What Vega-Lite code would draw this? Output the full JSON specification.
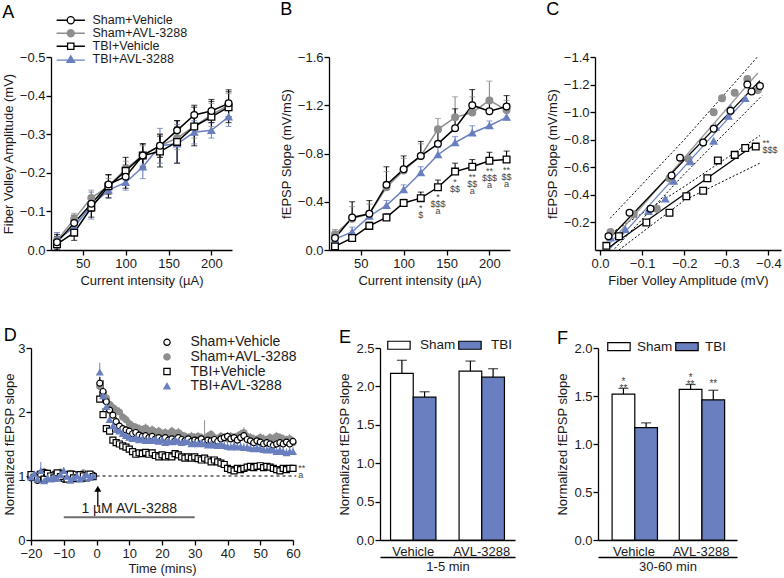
{
"$schema": "https://vega.github.io/schema/vega-lite/v6.json",
"autosize": {"type": "none"},
"padding": {"left": 31, "top": 57, "right": 753, "bottom": 521},
"background": "white",
"config": {
  "font": "Liberation Sans",
  "view": {"stroke": null},
  "axis": {"grid": false, "domainColor": "#000", "domainWidth": 1.3, "tickColor": "#000", "tickWidth": 1.3, "tickSize": 5, "labelFontSize": 13, "labelColor": "#1a1a1a", "titleFontSize": 13, "titleFontWeight": "normal", "titleColor": "#1a1a1a", "labelPadding": 2, "titlePadding": 4, "labelOverlap": false, "labelFlush": false, "labelBound": false},
  "axisY": {"labelPadding": 1},
  "legend": {"labelFontSize": 13.5, "labelColor": "#1a1a1a", "rowPadding": 0},
  "title": {"fontSize": 18, "fontWeight": "normal", "anchor": "start", "frame": "bounds", "color": "#000"}
},
"datasets": {
  "curve": [
    {"g":"SA","x":20,"fv":-0.025,"fl":-0.045,"fh":-0.005,"sl":-0.13,"st":-0.17},
    {"g":"SA","x":40,"fv":-0.08,"fl":-0.095,"fh":-0.065,"sl":-0.26,"st":-0.36},
    {"g":"SA","x":60,"fv":-0.135,"fl":-0.155,"fh":-0.115,"sl":-0.30,"st":-0.38},
    {"g":"SA","x":80,"fv":-0.165,"fl":-0.185,"fh":-0.145,"sl":-0.52,"st":-0.65},
    {"g":"SA","x":100,"fv":-0.21,"fl":-0.23,"fh":-0.19,"sl":-0.66,"st":-0.76},
    {"g":"SA","x":120,"fv":-0.245,"fl":-0.27,"fh":-0.22,"sl":-0.78,"st":-0.88},
    {"g":"SA","x":140,"fv":-0.27,"fl":-0.30,"fh":-0.24,"sl":-1.00,"st":-1.09},
    {"g":"SA","x":160,"fv":-0.29,"fl":-0.32,"fh":-0.26,"sl":-1.10,"st":-1.27},
    {"g":"SA","x":180,"fv":-0.32,"fl":-0.35,"fh":-0.29,"sl":-1.14,"st":-1.27},
    {"g":"SA","x":200,"fv":-0.35,"fl":-0.38,"fh":-0.32,"sl":-1.24,"st":-1.40},
    {"g":"SA","x":220,"fv":-0.375,"fl":-0.405,"fh":-0.345,"sl":-1.16,"st":-1.24},
    {"g":"TA","x":20,"fv":-0.025,"fl":-0.045,"fh":-0.005,"sl":-0.09,"st":-0.12},
    {"g":"TA","x":40,"fv":-0.06,"fl":-0.08,"fh":-0.04,"sl":-0.15,"st":-0.19},
    {"g":"TA","x":60,"fv":-0.115,"fl":-0.15,"fh":-0.08,"sl":-0.28,"st":-0.32},
    {"g":"TA","x":80,"fv":-0.155,"fl":-0.175,"fh":-0.135,"sl":-0.37,"st":-0.41},
    {"g":"TA","x":100,"fv":-0.175,"fl":-0.195,"fh":-0.155,"sl":-0.50,"st":-0.54},
    {"g":"TA","x":120,"fv":-0.215,"fl":-0.245,"fh":-0.185,"sl":-0.64,"st":-0.69},
    {"g":"TA","x":140,"fv":-0.27,"fl":-0.315,"fh":-0.225,"sl":-0.79,"st":-0.85},
    {"g":"TA","x":160,"fv":-0.275,"fl":-0.325,"fh":-0.225,"sl":-0.89,"st":-0.94},
    {"g":"TA","x":180,"fv":-0.305,"fl":-0.335,"fh":-0.275,"sl":-0.97,"st":-1.03},
    {"g":"TA","x":200,"fv":-0.31,"fl":-0.33,"fh":-0.29,"sl":-1.03,"st":-1.07},
    {"g":"TA","x":220,"fv":-0.345,"fl":-0.37,"fh":-0.32,"sl":-1.10,"st":-1.15},
    {"g":"TV","x":20,"fv":-0.015,"fl":-0.035,"fh":0.0,"sl":-0.03,"st":-0.05},
    {"g":"TV","x":40,"fv":-0.045,"fl":-0.065,"fh":-0.025,"sl":-0.10,"st":-0.12},
    {"g":"TV","x":60,"fv":-0.11,"fl":-0.135,"fh":-0.085,"sl":-0.20,"st":-0.23},
    {"g":"TV","x":80,"fv":-0.165,"fl":-0.195,"fh":-0.135,"sl":-0.27,"st":-0.30},
    {"g":"TV","x":100,"fv":-0.205,"fl":-0.24,"fh":-0.17,"sl":-0.39,"st":-0.42},
    {"g":"TV","x":120,"fv":-0.245,"fl":-0.275,"fh":-0.215,"sl":-0.43,"st":-0.48},
    {"g":"TV","x":140,"fv":-0.255,"fl":-0.295,"fh":-0.215,"sl":-0.52,"st":-0.58},
    {"g":"TV","x":160,"fv":-0.28,"fl":-0.335,"fh":-0.225,"sl":-0.65,"st":-0.72},
    {"g":"TV","x":180,"fv":-0.32,"fl":-0.37,"fh":-0.27,"sl":-0.69,"st":-0.75},
    {"g":"TV","x":200,"fv":-0.345,"fl":-0.385,"fh":-0.305,"sl":-0.74,"st":-0.81},
    {"g":"TV","x":220,"fv":-0.37,"fl":-0.41,"fh":-0.33,"sl":-0.75,"st":-0.82},
    {"g":"SV","x":20,"fv":-0.02,"fl":-0.04,"fh":0.0,"sl":-0.10,"st":-0.14},
    {"g":"SV","x":40,"fv":-0.07,"fl":-0.09,"fh":-0.05,"sl":-0.27,"st":-0.40},
    {"g":"SV","x":60,"fv":-0.12,"fl":-0.14,"fh":-0.10,"sl":-0.30,"st":-0.41},
    {"g":"SV","x":80,"fv":-0.17,"fl":-0.195,"fh":-0.145,"sl":-0.54,"st":-0.69},
    {"g":"SV","x":100,"fv":-0.19,"fl":-0.22,"fh":-0.16,"sl":-0.67,"st":-0.78},
    {"g":"SV","x":120,"fv":-0.245,"fl":-0.275,"fh":-0.215,"sl":-0.78,"st":-0.90},
    {"g":"SV","x":140,"fv":-0.27,"fl":-0.30,"fh":-0.24,"sl":-0.88,"st":-0.98},
    {"g":"SV","x":160,"fv":-0.31,"fl":-0.335,"fh":-0.285,"sl":-1.01,"st":-1.17},
    {"g":"SV","x":180,"fv":-0.35,"fl":-0.375,"fh":-0.325,"sl":-1.20,"st":-1.33},
    {"g":"SV","x":200,"fv":-0.36,"fl":-0.39,"fh":-0.33,"sl":-1.15,"st":-1.23},
    {"g":"SV","x":220,"fv":-0.38,"fl":-0.415,"fh":-0.345,"sl":-1.19,"st":-1.28}
  ],
  "bann": [
    {"x":120,"sl":-0.43,"t":"*\n$"},
    {"x":140,"sl":-0.52,"t":"*\n$$$\na"},
    {"x":160,"sl":-0.65,"t":"*\n$$"},
    {"x":180,"sl":-0.69,"t":"**\n$$\na"},
    {"x":200,"sl":-0.74,"t":"**\n$$$\na"},
    {"x":220,"sl":-0.75,"t":"**\n$$\na"}
  ],
  "ci": [
    {"c":1,"fv":-0.024,"sl":-0.23},{"c":1,"fv":-0.2,"sl":-0.8},{"c":1,"fv":-0.374,"sl":-1.40},
    {"c":2,"fv":-0.035,"sl":-0.01},{"c":2,"fv":-0.2,"sl":-0.55},{"c":2,"fv":-0.385,"sl":-1.12},
    {"c":3,"fv":-0.02,"sl":-0.11},{"c":3,"fv":-0.2,"sl":-0.46},{"c":3,"fv":-0.38,"sl":-0.83},
    {"c":4,"fv":-0.045,"sl":0.0},{"c":4,"fv":-0.2,"sl":-0.36},{"c":4,"fv":-0.38,"sl":-0.63}
  ],
  "cann": [{"fv":-0.386,"sl":-0.775,"t":"**\n$$$"}],
  "dline": [{"x":0,"x2":61,"y":1}],
  "ddrug": [{"x":-10,"x2":30,"y":0.355}],
  "darrow": [{"x":0.4,"y":0.52,"y2":0.8}],
  "dtext": [{"x":10,"y":0.478,"t":"1 µM AVL-3288"}],
  "dann": [{"x":61.6,"y":1.13,"t":"**\na"}],
  "ltp": [
    {"g":"SA","t":-20,"y":1.00,"u":1.04},{"g":"SA","t":-19,"y":0.98,"u":1.02},{"g":"SA","t":-18,"y":1.02,"u":1.06},{"g":"SA","t":-17,"y":0.96,"u":1.00},{"g":"SA","t":-16,"y":1.00,"u":1.04},
    {"g":"SA","t":-15,"y":1.05,"u":1.09},{"g":"SA","t":-14,"y":0.98,"u":1.02},{"g":"SA","t":-13,"y":1.03,"u":1.07},{"g":"SA","t":-12,"y":0.97,"u":1.01},{"g":"SA","t":-11,"y":1.06,"u":1.10},
    {"g":"SA","t":-10,"y":1.00,"u":1.04},{"g":"SA","t":-9,"y":0.98,"u":1.02},{"g":"SA","t":-8,"y":1.04,"u":1.08},{"g":"SA","t":-7,"y":0.96,"u":1.00},{"g":"SA","t":-6,"y":1.02,"u":1.06},
    {"g":"SA","t":-5,"y":1.00,"u":1.04},{"g":"SA","t":-4,"y":1.05,"u":1.09},{"g":"SA","t":-3,"y":0.98,"u":1.02},{"g":"SA","t":-2,"y":1.01,"u":1.05},{"g":"SA","t":-1,"y":1.00,"u":1.04},
    {"g":"SA","t":1,"y":2.40,"u":2.55},{"g":"SA","t":2,"y":2.30,"u":2.42},{"g":"SA","t":3,"y":2.22,"u":2.32},{"g":"SA","t":4,"y":2.12,"u":2.22},{"g":"SA","t":5,"y":2.07,"u":2.15},
    {"g":"SA","t":6,"y":2.03,"u":2.10},{"g":"SA","t":7,"y":2.00,"u":2.07},{"g":"SA","t":8,"y":1.92,"u":1.99},{"g":"SA","t":9,"y":1.88,"u":1.95},{"g":"SA","t":10,"y":1.82,"u":1.89},
    {"g":"SA","t":11,"y":1.78,"u":1.85},{"g":"SA","t":12,"y":1.76,"u":1.83},{"g":"SA","t":13,"y":1.74,"u":1.81},{"g":"SA","t":14,"y":1.72,"u":1.79},{"g":"SA","t":15,"y":1.75,"u":1.82},
    {"g":"SA","t":16,"y":1.70,"u":1.77},{"g":"SA","t":17,"y":1.72,"u":1.79},{"g":"SA","t":18,"y":1.68,"u":1.75},{"g":"SA","t":19,"y":1.70,"u":1.77},{"g":"SA","t":20,"y":1.66,"u":1.73},
    {"g":"SA","t":21,"y":1.68,"u":1.75},{"g":"SA","t":22,"y":1.65,"u":1.72},{"g":"SA","t":23,"y":1.70,"u":1.77},{"g":"SA","t":24,"y":1.66,"u":1.73},{"g":"SA","t":25,"y":1.68,"u":1.75},
    {"g":"SA","t":26,"y":1.64,"u":1.71},{"g":"SA","t":27,"y":1.62,"u":1.69},{"g":"SA","t":28,"y":1.60,"u":1.67},{"g":"SA","t":29,"y":1.62,"u":1.69},{"g":"SA","t":30,"y":1.60,"u":1.67},
    {"g":"SA","t":31,"y":1.62,"u":1.69},{"g":"SA","t":32,"y":1.60,"u":1.67},{"g":"SA","t":33,"y":1.58,"u":1.87},{"g":"SA","t":34,"y":1.62,"u":1.69},{"g":"SA","t":35,"y":1.65,"u":1.72},
    {"g":"SA","t":36,"y":1.60,"u":1.67},{"g":"SA","t":37,"y":1.58,"u":1.65},{"g":"SA","t":38,"y":1.62,"u":1.69},{"g":"SA","t":39,"y":1.60,"u":1.67},{"g":"SA","t":40,"y":1.58,"u":1.65},
    {"g":"SA","t":41,"y":1.62,"u":1.69},{"g":"SA","t":42,"y":1.60,"u":1.67},{"g":"SA","t":43,"y":1.62,"u":1.69},{"g":"SA","t":44,"y":1.65,"u":1.72},{"g":"SA","t":45,"y":1.68,"u":1.76},
    {"g":"SA","t":46,"y":1.62,"u":1.69},{"g":"SA","t":47,"y":1.60,"u":1.67},{"g":"SA","t":48,"y":1.58,"u":1.65},{"g":"SA","t":49,"y":1.56,"u":1.63},{"g":"SA","t":50,"y":1.60,"u":1.67},
    {"g":"SA","t":51,"y":1.58,"u":1.65},{"g":"SA","t":52,"y":1.56,"u":1.63},{"g":"SA","t":53,"y":1.60,"u":1.67},{"g":"SA","t":54,"y":1.58,"u":1.65},{"g":"SA","t":55,"y":1.62,"u":1.69},
    {"g":"SA","t":56,"y":1.60,"u":1.67},{"g":"SA","t":57,"y":1.58,"u":1.65},{"g":"SA","t":58,"y":1.56,"u":1.63},{"g":"SA","t":59,"y":1.58,"u":1.65},{"g":"SA","t":60,"y":1.52,"u":1.59},
    {"g":"SV","t":-20,"y":0.97,"u":1.01},{"g":"SV","t":-19,"y":1.00,"u":1.04},{"g":"SV","t":-18,"y":0.93,"u":0.97},{"g":"SV","t":-17,"y":0.97,"u":1.01},{"g":"SV","t":-16,"y":1.06,"u":1.10},
    {"g":"SV","t":-15,"y":1.03,"u":1.07},{"g":"SV","t":-14,"y":1.00,"u":1.04},{"g":"SV","t":-13,"y":1.02,"u":1.06},{"g":"SV","t":-12,"y":0.98,"u":1.02},{"g":"SV","t":-11,"y":1.04,"u":1.08},
    {"g":"SV","t":-10,"y":0.95,"u":0.99},{"g":"SV","t":-9,"y":1.00,"u":1.04},{"g":"SV","t":-8,"y":0.97,"u":1.01},{"g":"SV","t":-7,"y":1.03,"u":1.07},{"g":"SV","t":-6,"y":0.98,"u":1.02},
    {"g":"SV","t":-5,"y":1.00,"u":1.04},{"g":"SV","t":-4,"y":0.96,"u":1.00},{"g":"SV","t":-3,"y":1.02,"u":1.06},{"g":"SV","t":-2,"y":0.99,"u":1.03},{"g":"SV","t":-1,"y":1.01,"u":1.05},
    {"g":"SV","t":1,"y":2.45,"u":2.55},{"g":"SV","t":2,"y":2.32,"u":2.50},{"g":"SV","t":3,"y":2.16,"u":2.28},{"g":"SV","t":4,"y":2.03,"u":2.12},{"g":"SV","t":5,"y":1.95,"u":2.03},
    {"g":"SV","t":6,"y":1.85,"u":1.92},{"g":"SV","t":7,"y":1.78,"u":1.85},{"g":"SV","t":8,"y":1.74,"u":1.80},{"g":"SV","t":9,"y":1.72,"u":1.78},{"g":"SV","t":10,"y":1.70,"u":1.76},
    {"g":"SV","t":11,"y":1.66,"u":1.72},{"g":"SV","t":12,"y":1.68,"u":1.74},{"g":"SV","t":13,"y":1.64,"u":1.70},{"g":"SV","t":14,"y":1.62,"u":1.68},{"g":"SV","t":15,"y":1.63,"u":1.69},
    {"g":"SV","t":16,"y":1.60,"u":1.66},{"g":"SV","t":17,"y":1.62,"u":1.68},{"g":"SV","t":18,"y":1.58,"u":1.64},{"g":"SV","t":19,"y":1.60,"u":1.66},{"g":"SV","t":20,"y":1.57,"u":1.63},
    {"g":"SV","t":21,"y":1.60,"u":1.66},{"g":"SV","t":22,"y":1.56,"u":1.62},{"g":"SV","t":23,"y":1.58,"u":1.64},{"g":"SV","t":24,"y":1.55,"u":1.61},{"g":"SV","t":25,"y":1.60,"u":1.66},
    {"g":"SV","t":26,"y":1.57,"u":1.63},{"g":"SV","t":27,"y":1.55,"u":1.61},{"g":"SV","t":28,"y":1.58,"u":1.64},{"g":"SV","t":29,"y":1.54,"u":1.60},{"g":"SV","t":30,"y":1.56,"u":1.62},
    {"g":"SV","t":31,"y":1.55,"u":1.61},{"g":"SV","t":32,"y":1.58,"u":1.64},{"g":"SV","t":33,"y":1.53,"u":1.59},{"g":"SV","t":34,"y":1.56,"u":1.62},{"g":"SV","t":35,"y":1.55,"u":1.61},
    {"g":"SV","t":36,"y":1.57,"u":1.63},{"g":"SV","t":37,"y":1.54,"u":1.60},{"g":"SV","t":38,"y":1.58,"u":1.64},{"g":"SV","t":39,"y":1.60,"u":1.66},{"g":"SV","t":40,"y":1.62,"u":1.68},
    {"g":"SV","t":41,"y":1.58,"u":1.64},{"g":"SV","t":42,"y":1.60,"u":1.66},{"g":"SV","t":43,"y":1.56,"u":1.62},{"g":"SV","t":44,"y":1.60,"u":1.66},{"g":"SV","t":45,"y":1.63,"u":1.69},
    {"g":"SV","t":46,"y":1.57,"u":1.63},{"g":"SV","t":47,"y":1.55,"u":1.61},{"g":"SV","t":48,"y":1.52,"u":1.58},{"g":"SV","t":49,"y":1.55,"u":1.63},{"g":"SV","t":50,"y":1.53,"u":1.59},
    {"g":"SV","t":51,"y":1.50,"u":1.56},{"g":"SV","t":52,"y":1.52,"u":1.58},{"g":"SV","t":53,"y":1.50,"u":1.56},{"g":"SV","t":54,"y":1.48,"u":1.54},{"g":"SV","t":55,"y":1.50,"u":1.56},
    {"g":"SV","t":56,"y":1.52,"u":1.58},{"g":"SV","t":57,"y":1.50,"u":1.56},{"g":"SV","t":58,"y":1.53,"u":1.59},{"g":"SV","t":59,"y":1.50,"u":1.56},{"g":"SV","t":60,"y":1.54,"u":1.60},
    {"g":"TV","t":-20,"y":1.02,"u":1.05},{"g":"TV","t":-19,"y":0.98,"u":1.01},{"g":"TV","t":-18,"y":0.96,"u":0.99},{"g":"TV","t":-17,"y":1.03,"u":1.06},{"g":"TV","t":-16,"y":0.95,"u":0.98},
    {"g":"TV","t":-15,"y":1.04,"u":1.07},{"g":"TV","t":-14,"y":1.00,"u":1.03},{"g":"TV","t":-13,"y":0.97,"u":1.00},{"g":"TV","t":-12,"y":1.05,"u":1.08},{"g":"TV","t":-11,"y":0.99,"u":1.02},
    {"g":"TV","t":-10,"y":1.02,"u":1.05},{"g":"TV","t":-9,"y":0.95,"u":0.98},{"g":"TV","t":-8,"y":1.03,"u":1.06},{"g":"TV","t":-7,"y":0.97,"u":1.00},{"g":"TV","t":-6,"y":0.96,"u":0.99},
    {"g":"TV","t":-5,"y":1.02,"u":1.05},{"g":"TV","t":-4,"y":1.00,"u":1.03},{"g":"TV","t":-3,"y":0.97,"u":1.00},{"g":"TV","t":-2,"y":1.03,"u":1.06},{"g":"TV","t":-1,"y":0.99,"u":1.02},
    {"g":"TV","t":1,"y":2.20,"u":2.32},{"g":"TV","t":2,"y":1.96,"u":2.06},{"g":"TV","t":3,"y":1.74,"u":1.80},{"g":"TV","t":4,"y":1.70,"u":1.76},{"g":"TV","t":5,"y":1.56,"u":1.61},
    {"g":"TV","t":6,"y":1.52,"u":1.57},{"g":"TV","t":7,"y":1.50,"u":1.55},{"g":"TV","t":8,"y":1.47,"u":1.52},{"g":"TV","t":9,"y":1.45,"u":1.50},{"g":"TV","t":10,"y":1.42,"u":1.47},
    {"g":"TV","t":11,"y":1.38,"u":1.43},{"g":"TV","t":12,"y":1.34,"u":1.39},{"g":"TV","t":13,"y":1.36,"u":1.41},{"g":"TV","t":14,"y":1.35,"u":1.40},{"g":"TV","t":15,"y":1.37,"u":1.42},
    {"g":"TV","t":16,"y":1.34,"u":1.39},{"g":"TV","t":17,"y":1.36,"u":1.41},{"g":"TV","t":18,"y":1.32,"u":1.37},{"g":"TV","t":19,"y":1.30,"u":1.35},{"g":"TV","t":20,"y":1.33,"u":1.38},
    {"g":"TV","t":21,"y":1.30,"u":1.35},{"g":"TV","t":22,"y":1.32,"u":1.37},{"g":"TV","t":23,"y":1.30,"u":1.35},{"g":"TV","t":24,"y":1.35,"u":1.40},{"g":"TV","t":25,"y":1.33,"u":1.38},
    {"g":"TV","t":26,"y":1.30,"u":1.35},{"g":"TV","t":27,"y":1.28,"u":1.33},{"g":"TV","t":28,"y":1.30,"u":1.35},{"g":"TV","t":29,"y":1.28,"u":1.33},{"g":"TV","t":30,"y":1.30,"u":1.35},
    {"g":"TV","t":31,"y":1.27,"u":1.32},{"g":"TV","t":32,"y":1.25,"u":1.30},{"g":"TV","t":33,"y":1.28,"u":1.33},{"g":"TV","t":34,"y":1.25,"u":1.30},{"g":"TV","t":35,"y":1.22,"u":1.27},
    {"g":"TV","t":36,"y":1.25,"u":1.30},{"g":"TV","t":37,"y":1.22,"u":1.27},{"g":"TV","t":38,"y":1.20,"u":1.25},{"g":"TV","t":39,"y":1.18,"u":1.23},{"g":"TV","t":40,"y":1.12,"u":1.17},
    {"g":"TV","t":41,"y":1.10,"u":1.15},{"g":"TV","t":42,"y":1.08,"u":1.13},{"g":"TV","t":43,"y":1.12,"u":1.17},{"g":"TV","t":44,"y":1.10,"u":1.15},{"g":"TV","t":45,"y":1.12,"u":1.17},
    {"g":"TV","t":46,"y":1.14,"u":1.19},{"g":"TV","t":47,"y":1.15,"u":1.20},{"g":"TV","t":48,"y":1.13,"u":1.18},{"g":"TV","t":49,"y":1.15,"u":1.20},{"g":"TV","t":50,"y":1.16,"u":1.21},
    {"g":"TV","t":51,"y":1.13,"u":1.18},{"g":"TV","t":52,"y":1.15,"u":1.20},{"g":"TV","t":53,"y":1.14,"u":1.19},{"g":"TV","t":54,"y":1.12,"u":1.17},{"g":"TV","t":55,"y":1.10,"u":1.15},
    {"g":"TV","t":56,"y":1.08,"u":1.13},{"g":"TV","t":57,"y":1.12,"u":1.17},{"g":"TV","t":58,"y":1.10,"u":1.15},{"g":"TV","t":59,"y":1.12,"u":1.17},{"g":"TV","t":60,"y":1.12,"u":1.17},
    {"g":"TA","t":-20,"y":0.98,"u":1.02},{"g":"TA","t":-19,"y":1.03,"u":1.07},{"g":"TA","t":-18,"y":0.95,"u":0.99},{"g":"TA","t":-17,"y":1.08,"u":1.22},{"g":"TA","t":-16,"y":0.92,"u":0.96},
    {"g":"TA","t":-15,"y":0.97,"u":1.01},{"g":"TA","t":-14,"y":0.95,"u":0.99},{"g":"TA","t":-13,"y":0.98,"u":1.02},{"g":"TA","t":-12,"y":0.96,"u":1.00},{"g":"TA","t":-11,"y":1.02,"u":1.06},
    {"g":"TA","t":-10,"y":1.08,"u":1.14},{"g":"TA","t":-9,"y":0.99,"u":1.03},{"g":"TA","t":-8,"y":0.93,"u":0.97},{"g":"TA","t":-7,"y":0.97,"u":1.01},{"g":"TA","t":-6,"y":1.00,"u":1.04},
    {"g":"TA","t":-5,"y":0.95,"u":0.99},{"g":"TA","t":-4,"y":0.98,"u":1.02},{"g":"TA","t":-3,"y":1.02,"u":1.06},{"g":"TA","t":-2,"y":0.97,"u":1.01},{"g":"TA","t":-1,"y":1.00,"u":1.04},
    {"g":"TA","t":1,"y":2.62,"u":2.77},{"g":"TA","t":2,"y":2.25,"u":2.37},{"g":"TA","t":3,"y":2.08,"u":2.18},{"g":"TA","t":4,"y":1.88,"u":1.96},{"g":"TA","t":5,"y":1.78,"u":1.85},
    {"g":"TA","t":6,"y":1.72,"u":1.79},{"g":"TA","t":7,"y":1.70,"u":1.77},{"g":"TA","t":8,"y":1.66,"u":1.73},{"g":"TA","t":9,"y":1.63,"u":1.70},{"g":"TA","t":10,"y":1.60,"u":1.67},
    {"g":"TA","t":11,"y":1.58,"u":1.65},{"g":"TA","t":12,"y":1.60,"u":1.67},{"g":"TA","t":13,"y":1.56,"u":1.63},{"g":"TA","t":14,"y":1.58,"u":1.65},{"g":"TA","t":15,"y":1.55,"u":1.62},
    {"g":"TA","t":16,"y":1.57,"u":1.64},{"g":"TA","t":17,"y":1.55,"u":1.62},{"g":"TA","t":18,"y":1.58,"u":1.65},{"g":"TA","t":19,"y":1.54,"u":1.61},{"g":"TA","t":20,"y":1.56,"u":1.63},
    {"g":"TA","t":21,"y":1.52,"u":1.59},{"g":"TA","t":22,"y":1.55,"u":1.62},{"g":"TA","t":23,"y":1.53,"u":1.60},{"g":"TA","t":24,"y":1.56,"u":1.63},{"g":"TA","t":25,"y":1.54,"u":1.61},
    {"g":"TA","t":26,"y":1.52,"u":1.59},{"g":"TA","t":27,"y":1.55,"u":1.62},{"g":"TA","t":28,"y":1.53,"u":1.60},{"g":"TA","t":29,"y":1.50,"u":1.57},{"g":"TA","t":30,"y":1.52,"u":1.59},
    {"g":"TA","t":31,"y":1.50,"u":1.57},{"g":"TA","t":32,"y":1.52,"u":1.59},{"g":"TA","t":33,"y":1.50,"u":1.57},{"g":"TA","t":34,"y":1.48,"u":1.55},{"g":"TA","t":35,"y":1.50,"u":1.57},
    {"g":"TA","t":36,"y":1.48,"u":1.55},{"g":"TA","t":37,"y":1.47,"u":1.54},{"g":"TA","t":38,"y":1.50,"u":1.57},{"g":"TA","t":39,"y":1.47,"u":1.54},{"g":"TA","t":40,"y":1.46,"u":1.53},
    {"g":"TA","t":41,"y":1.45,"u":1.52},{"g":"TA","t":42,"y":1.47,"u":1.54},{"g":"TA","t":43,"y":1.45,"u":1.52},{"g":"TA","t":44,"y":1.46,"u":1.53},{"g":"TA","t":45,"y":1.44,"u":1.51},
    {"g":"TA","t":46,"y":1.45,"u":1.52},{"g":"TA","t":47,"y":1.43,"u":1.50},{"g":"TA","t":48,"y":1.42,"u":1.49},{"g":"TA","t":49,"y":1.44,"u":1.51},{"g":"TA","t":50,"y":1.42,"u":1.49},
    {"g":"TA","t":51,"y":1.41,"u":1.48},{"g":"TA","t":52,"y":1.40,"u":1.47},{"g":"TA","t":53,"y":1.42,"u":1.49},{"g":"TA","t":54,"y":1.40,"u":1.47},{"g":"TA","t":55,"y":1.38,"u":1.45},
    {"g":"TA","t":56,"y":1.40,"u":1.47},{"g":"TA","t":57,"y":1.38,"u":1.45},{"g":"TA","t":58,"y":1.36,"u":1.43},{"g":"TA","t":59,"y":1.38,"u":1.45},{"g":"TA","t":60,"y":1.38,"u":1.45}
  ],
  "ebar": [
    {"cat":"Vehicle","grp":"Sham","v":2.17,"vt":2.34},
    {"cat":"Vehicle","grp":"TBI","v":1.86,"vt":1.93},
    {"cat":"AVL-3288","grp":"Sham","v":2.20,"vt":2.33},
    {"cat":"AVL-3288","grp":"TBI","v":2.12,"vt":2.23}
  ],
  "fbar": [
    {"cat":"Vehicle","grp":"Sham","v":1.52,"vt":1.58,"ann":"*\n**"},
    {"cat":"Vehicle","grp":"TBI","v":1.17,"vt":1.22,"ann":""},
    {"cat":"AVL-3288","grp":"Sham","v":1.57,"vt":1.62,"ann":"*\n**"},
    {"cat":"AVL-3288","grp":"TBI","v":1.46,"vt":1.56,"ann":"**"}
  ]
},
"resolve": {"scale": {"color": "independent", "fill": "independent", "stroke": "independent", "shape": "independent"}},
"vconcat": [
  {
    "resolve": {"scale": {"color": "independent", "fill": "independent", "stroke": "independent", "shape": "independent"}},
    "hconcat": [
      {"width": 20, "height": 193, "data": {"values": [{"a": 0}]}, "mark": {"type": "point", "opacity": 0}},
      {
        "resolve": {"scale": {"color": "independent", "fill": "independent", "stroke": "independent", "shape": "independent"}},
        "hconcat": [
          {
            "width": 181, "height": 193,
            "title": {"text": "A", "offset": -8},
            "data": {"name": "curve"},
            "resolve": {"scale": {"shape": "independent", "fill": "independent", "stroke": "independent"}},
            "layer": [
              {"mark": {"type": "rule", "strokeWidth": 1.1},
               "encoding": {
                 "x": {"field": "x", "type": "quantitative", "scale": {"domain": [13, 224], "nice": false, "zero": false}, "axis": {"values": [50, 100, 150, 200], "tickCount": 20, "title": "Current intensity (µA)"}},
                 "y": {"field": "fl", "type": "quantitative", "scale": {"domain": [0, -0.5], "nice": false, "zero": false}, "axis": {"values": [0, -0.1, -0.2, -0.3, -0.4, -0.5], "tickCount": 20, "format": ".1f", "title": "Fiber Volley Amplitude (mV)"}},
                 "y2": {"field": "fh"},
                 "color": {"field": "g", "type": "nominal", "scale": {"domain": ["SV", "SA", "TV", "TA"], "range": ["#000000", "#8e8e8e", "#000000", "#6a7fbf"]}, "legend": null}
               }},
              {"mark": {"type": "tick", "orient": "horizontal", "size": 6, "thickness": 1.1},
               "encoding": {"x": {"field": "x", "type": "quantitative"}, "y": {"field": "fl", "type": "quantitative"}, "color": {"field": "g", "type": "nominal", "legend": null}}},
              {"mark": {"type": "tick", "orient": "horizontal", "size": 6, "thickness": 1.1},
               "encoding": {"x": {"field": "x", "type": "quantitative"}, "y": {"field": "fh", "type": "quantitative"}, "color": {"field": "g", "type": "nominal", "legend": null}}},
              {"mark": {"type": "line", "strokeWidth": 1.5},
               "encoding": {"x": {"field": "x", "type": "quantitative"}, "y": {"field": "fv", "type": "quantitative"}, "color": {"field": "g", "type": "nominal", "legend": null}}},
              {"mark": {"type": "point", "filled": true, "size": 45, "strokeWidth": 1.3, "opacity": 1},
               "encoding": {
                 "x": {"field": "x", "type": "quantitative"}, "y": {"field": "fv", "type": "quantitative"},
                 "shape": {"field": "g", "type": "nominal", "scale": {"domain": ["SV", "SA", "TV", "TA"], "range": ["circle", "circle", "square", "triangle-up"]}, "legend": null},
                 "fill": {"field": "g", "type": "nominal", "scale": {"domain": ["SV", "SA", "TV", "TA"], "range": ["#ffffff", "#8e8e8e", "#ffffff", "#6a7fbf"]}, "legend": null},
                 "stroke": {"field": "g", "type": "nominal", "scale": {"domain": ["SV", "SA", "TV", "TA"], "range": ["#000000", "#8e8e8e", "#000000", "#6a7fbf"]}, "legend": null}
               }},
              {"transform": [{"filter": "datum.x > 1000"}],
               "mark": {"type": "point", "filled": true, "size": 50, "strokeWidth": 1.3, "opacity": 1},
               "encoding": {
                 "x": {"field": "x", "type": "quantitative"}, "y": {"field": "fv", "type": "quantitative"},
                 "shape": {"field": "g", "type": "nominal", "scale": {"domain": ["SV", "SA", "TV", "TA"], "range": ["M-4,0H-1M1,0H4M-1,0A1,1,0,1,0,1,0A1,1,0,1,0,-1,0Z", "M-4,0H-1M1,0H4M-1,0A1,1,0,1,0,1,0A1,1,0,1,0,-1,0Z", "M-4,0H-0.9M0.9,0H4M-0.9,-0.9H0.9V0.9H-0.9Z", "M-4,0.25H-0.8M0.8,0.25H4M0,-1L1.1,0.9H-1.1Z"]},
                   "legend": {"orient": "none", "legendX": 13.5, "legendY": -43, "title": null, "symbolSize": 50, "symbolStrokeWidth": 1.3, "labelOffset": 15.5, "labelFontSize": 12.5, "rowPadding": 0, "labelExpr": "datum.label == 'SV' ? 'Sham+Vehicle' : datum.label == 'SA' ? 'Sham+AVL-3288' : datum.label == 'TV' ? 'TBI+Vehicle' : 'TBI+AVL-3288'"}},
                 "fill": {"field": "g", "type": "nominal", "scale": {"domain": ["SV", "SA", "TV", "TA"], "range": ["#ffffff", "#8e8e8e", "#ffffff", "#6a7fbf"]},
                   "legend": {"orient": "none", "legendX": 13.5, "legendY": -43, "title": null, "symbolSize": 50, "symbolStrokeWidth": 1.3, "labelOffset": 15.5, "labelFontSize": 12.5, "rowPadding": 0, "labelExpr": "datum.label == 'SV' ? 'Sham+Vehicle' : datum.label == 'SA' ? 'Sham+AVL-3288' : datum.label == 'TV' ? 'TBI+Vehicle' : 'TBI+AVL-3288'"}},
                 "stroke": {"field": "g", "type": "nominal", "scale": {"domain": ["SV", "SA", "TV", "TA"], "range": ["#000000", "#8e8e8e", "#000000", "#6a7fbf"]},
                   "legend": {"orient": "none", "legendX": 13.5, "legendY": -43, "title": null, "symbolSize": 50, "symbolStrokeWidth": 1.3, "labelOffset": 15.5, "labelFontSize": 12.5, "rowPadding": 0, "labelExpr": "datum.label == 'SV' ? 'Sham+Vehicle' : datum.label == 'SA' ? 'Sham+AVL-3288' : datum.label == 'TV' ? 'TBI+Vehicle' : 'TBI+AVL-3288'"}}
               }}
            ]
          },
          {
            "resolve": {"scale": {"color": "independent", "fill": "independent", "stroke": "independent", "shape": "independent"}},
            "hconcat": [
              {
                "width": 181, "height": 193,
                "title": {"text": "B", "offset": 32},
                "layer": [
                  {"data": {"name": "curve"}, "mark": {"type": "rule", "strokeWidth": 1.1},
                   "encoding": {
                     "x": {"field": "x", "type": "quantitative", "scale": {"domain": [13, 224], "nice": false, "zero": false}, "axis": {"values": [50, 100, 150, 200], "tickCount": 20, "title": "Current intensity (µA)"}},
                     "y": {"field": "sl", "type": "quantitative", "scale": {"domain": [0, -1.6], "nice": false, "zero": false}, "axis": {"values": [0, -0.4, -0.8, -1.2, -1.6], "tickCount": 20, "format": ".1f", "title": "fEPSP Slope (mV/mS)"}},
                     "y2": {"field": "st"},
                     "color": {"field": "g", "type": "nominal", "scale": {"domain": ["SV", "SA", "TV", "TA"], "range": ["#000000", "#8e8e8e", "#000000", "#6a7fbf"]}, "legend": null}
                   }},
                  {"data": {"name": "curve"}, "mark": {"type": "tick", "orient": "horizontal", "size": 6, "thickness": 1.1},
                   "encoding": {"x": {"field": "x", "type": "quantitative"}, "y": {"field": "st", "type": "quantitative"}, "color": {"field": "g", "type": "nominal", "legend": null}}},
                  {"data": {"name": "curve"}, "mark": {"type": "line", "strokeWidth": 1.5},
                   "encoding": {"x": {"field": "x", "type": "quantitative"}, "y": {"field": "sl", "type": "quantitative"}, "color": {"field": "g", "type": "nominal", "legend": null}}},
                  {"data": {"name": "curve"}, "mark": {"type": "point", "filled": true, "size": 45, "strokeWidth": 1.3, "opacity": 1},
                   "encoding": {
                     "x": {"field": "x", "type": "quantitative"}, "y": {"field": "sl", "type": "quantitative"},
                     "shape": {"field": "g", "type": "nominal", "scale": {"domain": ["SV", "SA", "TV", "TA"], "range": ["circle", "circle", "square", "triangle-up"]}, "legend": null},
                     "fill": {"field": "g", "type": "nominal", "scale": {"domain": ["SV", "SA", "TV", "TA"], "range": ["#ffffff", "#8e8e8e", "#ffffff", "#6a7fbf"]}, "legend": null},
                     "stroke": {"field": "g", "type": "nominal", "scale": {"domain": ["SV", "SA", "TV", "TA"], "range": ["#000000", "#8e8e8e", "#000000", "#6a7fbf"]}, "legend": null}
                   }},
                  {"data": {"name": "bann"}, "mark": {"type": "text", "fontSize": 9, "color": "#444444", "baseline": "top", "align": "center", "lineBreak": "\n", "lineHeight": 7, "dy": 6},
                   "encoding": {"x": {"field": "x", "type": "quantitative"}, "y": {"field": "sl", "type": "quantitative"}, "text": {"field": "t", "type": "nominal"}}}
                ]
              },
              {
                "width": 186, "height": 193,
                "title": {"text": "C", "offset": 32},
                "layer": [
                  {"data": {"name": "ci"}, "mark": {"type": "line", "strokeDash": [2, 2], "strokeWidth": 1, "color": "#000000", "clip": true},
                   "encoding": {
                     "x": {"field": "fv", "type": "quantitative", "scale": {"domain": [0.012, -0.43], "nice": false, "zero": false}, "axis": {"values": [0, -0.1, -0.2, -0.3, -0.4], "tickCount": 20, "format": ".1f", "title": "Fiber Volley Amplitude (mV)"}},
                     "y": {"field": "sl", "type": "quantitative", "scale": {"domain": [0, -1.4], "nice": false, "zero": false}, "axis": {"values": [-0.2, -0.4, -0.6, -0.8, -1.0, -1.2, -1.4], "tickCount": 20, "format": ".1f", "title": "fEPSP Slope (mV/mS)"}},
                     "detail": {"field": "c", "type": "nominal"}
                   }},
                  {"data": {"name": "curve"}, "transform": [{"regression": "sl", "on": "fv", "groupby": ["g"]}],
                   "mark": {"type": "line", "strokeWidth": 1.3},
                   "encoding": {"x": {"field": "fv", "type": "quantitative"}, "y": {"field": "sl", "type": "quantitative"},
                     "color": {"field": "g", "type": "nominal", "scale": {"domain": ["SV", "SA", "TV", "TA"], "range": ["#000000", "#9a9a9a", "#000000", "#6a7fbf"]}, "legend": null}}},
                  {"data": {"name": "curve"}, "mark": {"type": "point", "filled": true, "size": 45, "strokeWidth": 1.3, "opacity": 1},
                   "encoding": {
                     "x": {"field": "fv", "type": "quantitative"}, "y": {"field": "sl", "type": "quantitative"},
                     "shape": {"field": "g", "type": "nominal", "scale": {"domain": ["SV", "SA", "TV", "TA"], "range": ["circle", "circle", "square", "triangle-up"]}, "legend": null},
                     "fill": {"field": "g", "type": "nominal", "scale": {"domain": ["SV", "SA", "TV", "TA"], "range": ["#ffffff", "#8e8e8e", "#ffffff", "#6a7fbf"]}, "legend": null},
                     "stroke": {"field": "g", "type": "nominal", "scale": {"domain": ["SV", "SA", "TV", "TA"], "range": ["#000000", "#8e8e8e", "#000000", "#6a7fbf"]}, "legend": null}
                   }},
                  {"data": {"name": "cann"}, "mark": {"type": "text", "fontSize": 9, "color": "#444444", "baseline": "middle", "align": "left", "lineBreak": "\n", "lineHeight": 7},
                   "encoding": {"x": {"field": "fv", "type": "quantitative"}, "y": {"field": "sl", "type": "quantitative"}, "text": {"field": "t", "type": "nominal"}}}
                ]
              }
            ],
            "spacing": 85, "bounds": "flush"
          }
        ],
        "spacing": 97, "bounds": "flush"
      }
    ],
    "spacing": 0, "bounds": "flush"
  },
  {
    "resolve": {"scale": {"color": "independent", "fill": "independent", "stroke": "independent", "shape": "independent"}},
    "hconcat": [
      {
        "width": 262, "height": 192,
        "title": {"text": "D", "offset": -10},
        "resolve": {"scale": {"color": "independent"}},
        "layer": [
          {"data": {"name": "dline"}, "mark": {"type": "rule", "strokeDash": [3, 3], "strokeWidth": 1, "color": "#000000"},
           "encoding": {
             "x": {"field": "x", "type": "quantitative", "scale": {"domain": [-20, 60], "nice": false, "zero": false}, "axis": {"values": [-20, -10, 0, 10, 20, 30, 40, 50, 60], "tickCount": 20, "title": "Time (mins)", "titlePadding": 2}},
             "x2": {"field": "x2"},
             "y": {"field": "y", "type": "quantitative", "scale": {"domain": [0, 3], "nice": false}, "axis": {"values": [0, 1, 2, 3], "tickCount": 20, "format": "d", "title": "Normalized fEPSP slope", "titlePadding": 1}}
           }},
          {"data": {"name": "ddrug"}, "mark": {"type": "rule", "strokeWidth": 2, "color": "#6e6e6e"},
           "encoding": {"x": {"field": "x", "type": "quantitative"}, "x2": {"field": "x2"}, "y": {"field": "y", "type": "quantitative"}}},
          {"data": {"name": "darrow"}, "mark": {"type": "rule", "strokeWidth": 1.3, "color": "#000000"},
           "encoding": {"x": {"field": "x", "type": "quantitative"}, "y": {"field": "y", "type": "quantitative"}, "y2": {"field": "y2"}}},
          {"data": {"name": "darrow"}, "mark": {"type": "point", "shape": "triangle-up", "filled": true, "size": 50, "color": "#000000", "opacity": 1},
           "encoding": {"x": {"field": "x", "type": "quantitative"}, "y": {"field": "y2", "type": "quantitative"}}},
          {"data": {"name": "dtext"}, "mark": {"type": "text", "fontSize": 14, "color": "#1a1a1a", "baseline": "middle", "align": "center"},
           "encoding": {"x": {"field": "x", "type": "quantitative"}, "y": {"field": "y", "type": "quantitative"}, "text": {"field": "t", "type": "nominal"}}},
          {"data": {"name": "ltp"}, "mark": {"type": "rule", "strokeWidth": 1},
           "encoding": {"x": {"field": "t", "type": "quantitative"}, "y": {"field": "y", "type": "quantitative"}, "y2": {"field": "u"},
             "color": {"field": "g", "type": "nominal", "scale": {"domain": ["SV", "SA", "TV", "TA"], "range": ["#000000", "#8e8e8e", "#000000", "#6a7fbf"]}, "legend": null}}},
          {"data": {"name": "ltp"}, "mark": {"type": "point", "filled": true, "size": 36, "strokeWidth": 1.2, "opacity": 1},
           "encoding": {
             "x": {"field": "t", "type": "quantitative"}, "y": {"field": "y", "type": "quantitative"},
             "shape": {"field": "g", "type": "nominal", "scale": {"domain": ["SV", "SA", "TV", "TA"], "range": ["circle", "circle", "square", "triangle-up"]},
               "legend": {"orient": "none", "legendX": 129, "legendY": -12.7, "title": null, "symbolSize": 40, "symbolStrokeWidth": 1.2, "labelOffset": 16.5, "labelFontSize": 14, "rowPadding": 0.6, "labelExpr": "datum.label == 'SV' ? 'Sham+Vehicle' : datum.label == 'SA' ? 'Sham+AVL-3288' : datum.label == 'TV' ? 'TBI+Vehicle' : 'TBI+AVL-3288'"}},
             "fill": {"field": "g", "type": "nominal", "scale": {"domain": ["SV", "SA", "TV", "TA"], "range": ["#ffffff", "#8e8e8e", "#ffffff", "#6a7fbf"]},
               "legend": {"orient": "none", "legendX": 129, "legendY": -12.7, "title": null, "symbolSize": 40, "symbolStrokeWidth": 1.2, "labelOffset": 16.5, "labelFontSize": 14, "rowPadding": 0.6, "labelExpr": "datum.label == 'SV' ? 'Sham+Vehicle' : datum.label == 'SA' ? 'Sham+AVL-3288' : datum.label == 'TV' ? 'TBI+Vehicle' : 'TBI+AVL-3288'"}},
             "stroke": {"field": "g", "type": "nominal", "scale": {"domain": ["SV", "SA", "TV", "TA"], "range": ["#000000", "#8e8e8e", "#000000", "#6a7fbf"]},
               "legend": {"orient": "none", "legendX": 129, "legendY": -12.7, "title": null, "symbolSize": 40, "symbolStrokeWidth": 1.2, "labelOffset": 16.5, "labelFontSize": 14, "rowPadding": 0.6, "labelExpr": "datum.label == 'SV' ? 'Sham+Vehicle' : datum.label == 'SA' ? 'Sham+AVL-3288' : datum.label == 'TV' ? 'TBI+Vehicle' : 'TBI+AVL-3288'"}}
           }},
          {"data": {"name": "dann"}, "mark": {"type": "text", "fontSize": 9, "color": "#444444", "align": "left", "baseline": "middle", "lineBreak": "\n", "lineHeight": 7},
           "encoding": {"x": {"field": "x", "type": "quantitative"}, "y": {"field": "y", "type": "quantitative"}, "text": {"field": "t", "type": "nominal"}}}
        ]
      },
      {
        "resolve": {"scale": {"color": "independent", "fill": "independent", "stroke": "independent", "shape": "independent"}},
        "hconcat": [
          {
            "width": 135, "height": 192,
            "title": {"text": "E", "offset": -8},
            "data": {"name": "ebar"},
            "resolve": {"axis": {"x": "independent"}},
            "layer": [
              {"mark": {"type": "bar", "stroke": "#000000", "strokeWidth": 1.2},
               "encoding": {
                 "x": {"field": "cat", "type": "nominal", "sort": ["Vehicle", "AVL-3288"], "scale": {"paddingInner": 0.338, "paddingOuter": 0.154}, "axis": {"title": null, "labelAngle": 0, "ticks": false, "tickSize": 0, "labelPadding": 5}},
                 "xOffset": {"field": "grp", "type": "nominal", "sort": ["Sham", "TBI"], "scale": {"paddingInner": 0, "paddingOuter": 0}},
                 "y": {"field": "v", "type": "quantitative", "scale": {"domain": [0, 2.5], "nice": false}, "axis": {"values": [0, 0.5, 1, 1.5, 2, 2.5], "tickCount": 20, "format": ".1f", "title": "Normalized fEPSP slope"}},
                 "fill": {"field": "grp", "type": "nominal", "scale": {"domain": ["Sham", "TBI"], "range": ["#ffffff", "#6a7fbf"]},
                   "legend": {"orient": "none", "legendX": 5, "legendY": -9.5, "direction": "horizontal", "title": null, "symbolType": "M-1,-1H4.6V1H-1Z", "symbolSize": 64, "symbolStrokeColor": "#000000", "symbolStrokeWidth": 1.2, "labelOffset": 21.4, "columnPadding": 0, "gridAlign": "none", "labelFontSize": 13.5}}
               }},
              {"mark": {"type": "rule", "strokeWidth": 1.2, "color": "#000000"},
               "encoding": {
                 "x": {"field": "cat", "type": "nominal", "sort": ["Vehicle", "AVL-3288"], "axis": {"orient": "bottom", "offset": 17, "labels": false, "ticks": false, "tickSize": 0, "domain": true, "title": "1-5 min", "titlePadding": 3}},
                 "xOffset": {"field": "grp", "type": "nominal", "sort": ["Sham", "TBI"]},
                 "y": {"field": "v", "type": "quantitative"}, "y2": {"field": "vt"}
               }},
              {"mark": {"type": "tick", "orient": "horizontal", "size": 10, "thickness": 1.2, "color": "#000000"},
               "encoding": {
                 "x": {"field": "cat", "type": "nominal", "sort": ["Vehicle", "AVL-3288"], "axis": null},
                 "xOffset": {"field": "grp", "type": "nominal", "sort": ["Sham", "TBI"]},
                 "y": {"field": "vt", "type": "quantitative"}
               }}
            ]
          },
          {
            "width": 139, "height": 192,
            "title": {"text": "F", "offset": -8},
            "data": {"name": "fbar"},
            "resolve": {"axis": {"x": "independent"}},
            "layer": [
              {"mark": {"type": "bar", "stroke": "#000000", "strokeWidth": 1.2},
               "encoding": {
                 "x": {"field": "cat", "type": "nominal", "sort": ["Vehicle", "AVL-3288"], "scale": {"paddingInner": 0.35, "paddingOuter": 0.21}, "axis": {"title": null, "labelAngle": 0, "ticks": false, "tickSize": 0, "labelPadding": 5}},
                 "xOffset": {"field": "grp", "type": "nominal", "sort": ["Sham", "TBI"], "scale": {"paddingInner": 0, "paddingOuter": 0}},
                 "y": {"field": "v", "type": "quantitative", "scale": {"domain": [0, 2], "nice": false}, "axis": {"values": [0, 0.5, 1, 1.5, 2], "tickCount": 20, "format": ".1f", "title": "Normalized fEPSP slope"}},
                 "fill": {"field": "grp", "type": "nominal", "scale": {"domain": ["Sham", "TBI"], "range": ["#ffffff", "#6a7fbf"]},
                   "legend": {"orient": "none", "legendX": 7, "legendY": -8.5, "direction": "horizontal", "title": null, "symbolType": "M-1,-1H4.6V1H-1Z", "symbolSize": 64, "symbolStrokeColor": "#000000", "symbolStrokeWidth": 1.2, "labelOffset": 18.4, "columnPadding": 0, "labelFontSize": 13.5}}
               }},
              {"mark": {"type": "rule", "strokeWidth": 1.2, "color": "#000000"},
               "encoding": {
                 "x": {"field": "cat", "type": "nominal", "sort": ["Vehicle", "AVL-3288"], "axis": {"orient": "bottom", "offset": 17, "labels": false, "ticks": false, "tickSize": 0, "domain": true, "title": "30-60 min", "titlePadding": 3}},
                 "xOffset": {"field": "grp", "type": "nominal", "sort": ["Sham", "TBI"]},
                 "y": {"field": "v", "type": "quantitative"}, "y2": {"field": "vt"}
               }},
              {"mark": {"type": "tick", "orient": "horizontal", "size": 10, "thickness": 1.2, "color": "#000000"},
               "encoding": {
                 "x": {"field": "cat", "type": "nominal", "sort": ["Vehicle", "AVL-3288"], "axis": null},
                 "xOffset": {"field": "grp", "type": "nominal", "sort": ["Sham", "TBI"]},
                 "y": {"field": "vt", "type": "quantitative"}
               }},
              {"mark": {"type": "text", "fontSize": 10, "color": "#444444", "baseline": "bottom", "align": "center", "lineBreak": "\n", "lineHeight": 6.5, "dy": -1},
               "encoding": {
                 "x": {"field": "cat", "type": "nominal", "sort": ["Vehicle", "AVL-3288"], "axis": null},
                 "xOffset": {"field": "grp", "type": "nominal", "sort": ["Sham", "TBI"]},
                 "y": {"field": "vt", "type": "quantitative"},
                 "text": {"field": "ann", "type": "nominal"}
               }}
            ]
          }
        ],
        "spacing": 83, "bounds": "flush"
      }
    ],
    "spacing": 87, "bounds": "flush"
  }
],
"spacing": 291,
"bounds": "flush"
}
